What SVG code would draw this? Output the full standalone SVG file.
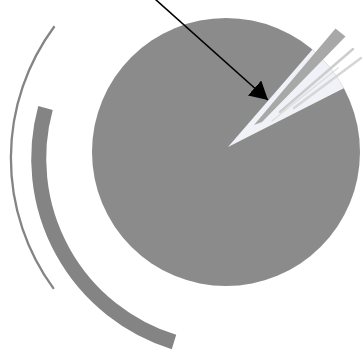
<svg xmlns="http://www.w3.org/2000/svg" width="364" height="352" viewBox="0 0 364 352">
  <style>
    .disc { fill: #8b8b8b; }
    .arc { fill: none; stroke: #848484; }
    .light { fill: #f0f2f8; }
    .streak { fill: none; stroke-linecap: round; }
    .conn { stroke: #000; stroke-width: 1.6; fill: none; }
  </style>
  <defs>
    <marker id="arrowHead" markerUnits="userSpaceOnUse" markerWidth="18" markerHeight="20" refX="18" refY="10" orient="auto">
      <path d="M0,0 L18,10 L0,20 Z" fill="#000"/>
    </marker>
    <clipPath id="discClip">
      <circle cx="226" cy="152" r="134"/>
    </clipPath>
  </defs>
  <rect width="364" height="352" fill="#ffffff"/>

  <g id="outer-arc">
    <path class="arc" stroke-width="2.3" d="M54.5,26.2 A221,221 0 0 0 53.8,288.9"/>
  </g>
  <g id="inner-arc">
    <path class="arc" stroke-width="15" d="M45.5,108 A192,192 0 0 0 174,342"/>
  </g>

  <g id="disc">
    <circle class="disc" cx="226" cy="152" r="134"/>
  </g>

  <g id="wedge">
    <polygon class="light" clip-path="url(#discClip)" points="228,147 318,43 364,48 364,78"/>
    <polygon fill="#a8a8a8" points="254,125 335.5,28.5 345.5,36.5 262,122"/>
    <path class="streak" stroke="#cdcdcd" stroke-width="2.5" d="M280,112 L353,49"/>
    <path class="streak" stroke="#d6d6d6" stroke-width="2.5" d="M294,108 L361,58"/>
    <path class="streak" stroke="#dedede" stroke-width="1.3" d="M272,121 L338,68"/>
  </g>

  <g id="connectors">
    <line class="conn" x1="155" y1="-1" x2="268" y2="100" marker-end="url(#arrowHead)"/>
  </g>
</svg>
